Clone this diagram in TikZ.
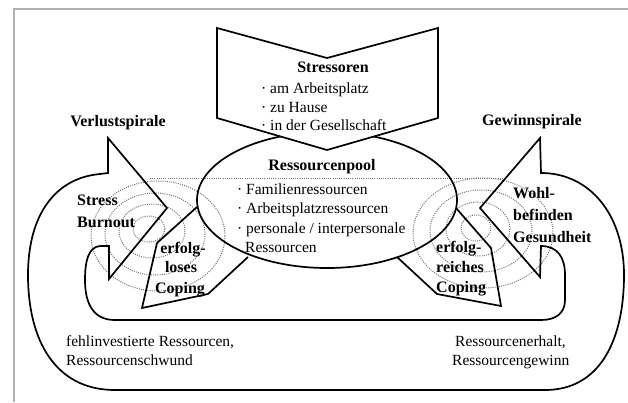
\documentclass[tikz,border=0pt]{standalone}
\usepackage{fontspec}
\setmainfont{Liberation Serif}
\begin{document}
\begin{tikzpicture}[x=1pt,y=-1pt, line join=miter,
  outline/.style={draw=black, line width=1.7pt},
  ring/.style={draw=black!55, dash pattern=on 1pt off 1.2pt, line width=1pt},
  bt/.style={font=\fontsize{16}{19.5}\selectfont\bfseries, inner sep=0pt},
  rt/.style={font=\fontsize{15.5}{19.5}\selectfont, inner sep=0pt}]
\useasboundingbox (0,0) rectangle (628,402);
% frame
\draw[gray!60, line width=1.5pt] (14,402) -- (14,9) -- (628,9);
% dotted spirals
\draw[ring] (158,236) ellipse [x radius=67, y radius=55];
\draw[ring] (155,234) ellipse [x radius=50, y radius=41];
\draw[ring] (152,231) ellipse [x radius=33, y radius=27];
\draw[ring] (149,229) ellipse [x radius=16, y radius=13];
\draw[ring] (483,233) ellipse [x radius=70, y radius=55];
\draw[ring] (481,231) ellipse [x radius=51, y radius=41];
\draw[ring] (478,229) ellipse [x radius=32, y radius=27];
\draw[ring] (476,228) ellipse [x radius=15, y radius=13];
\draw[ring] (150,178) -- (505,178);
% resource pool
\draw[outline] (327,200) ellipse [x radius=130, y radius=68];
% stressors chevron
\draw[outline, fill=white] (217,28) -- (327,58) -- (438,28) -- (438,118) -- (327,150) -- (217,118) -- cycle;
% coping arrows
\draw[outline] (197,207) -- (157,243) -- (142,308) -- (208,294) -- (248,257);
\draw[outline] (456,208) -- (491,248) -- (501,306) -- (437,294) -- (397,257);
% spiral band with both arrowheads
\draw[outline] (108,138) -- (167,208) -- (109,279) -- (109,246) -- (100,246)
  .. controls (88,247) and (85,262) .. (85,280)
  .. controls (85,306) and (95,320) .. (115,320) -- (541,320)
  .. controls (556,320) and (565,313) .. (565,300) -- (565,275)
  .. controls (565,258) and (558,246) .. (541,246) -- (540,277) -- (480,208) -- (540,138) -- (541,173)
  .. controls (590,173) and (624,215) .. (624,275)
  .. controls (624,340) and (600,390) .. (545,390) -- (115,390)
  .. controls (55,390) and (28,340) .. (28,275)
  .. controls (28,215) and (55,178) .. (100,174) -- (108,173) -- cycle;
% texts
\node[bt, anchor=base] (stressoren) at (333,72) {Stressoren};
\node[rt, anchor=base west] (s1) at (261,93) {· am Arbeitsplatz};
\node[rt, anchor=base west] (s2) at (261,112) {· zu Hause};
\node[rt, anchor=base west] (s3) at (261,130) {· in der Gesellschaft};
\node[bt, anchor=base] (verlust) at (118,126) {Verlustspirale};
\node[bt, anchor=base] (gewinn) at (532,125) {Gewinnspirale};
\node[bt, anchor=base] (pool) at (322,170) {Ressourcenpool};
\node[rt, anchor=base west] (p1) at (237,194) {· Familienressourcen};
\node[rt, anchor=base west] (p2) at (237,213) {· Arbeitsplatzressourcen};
\node[rt, anchor=base west] (p3) at (237,233) {· personale / interpersonale};
\node[rt, anchor=base west] (p4) at (245,252) {Ressourcen};
\node[bt, anchor=base west] (stress) at (77,205) {Stress};
\node[bt, anchor=base west] (burnout) at (77,227) {Burnout};
\node[bt, anchor=base] (l1) at (183,253) {erfolg-};
\node[bt, anchor=base] (l2) at (181,272) {loses};
\node[bt, anchor=base] (l3) at (180,293) {Coping};
\node[bt, anchor=base west] (r1) at (436,252) {erfolg-};
\node[bt, anchor=base west] (r2) at (436,272) {reiches};
\node[bt, anchor=base west] (r3) at (436,292) {Coping};
\node[bt, anchor=base west] (w1) at (513,198) {Wohl-};
\node[bt, anchor=base west] (w2) at (513,220) {befinden};
\node[bt, anchor=base west] (w3) at (513,242) {Gesundheit};
\node[rt, anchor=base west] (f1) at (66,346) {fehlinvestierte Ressourcen,};
\node[rt, anchor=base west] (f2) at (66,365) {Ressourcenschwund};
\node[rt, anchor=base west] (g1) at (455,346) {Ressourcenerhalt,};
\node[rt, anchor=base west] (g2) at (452,365) {Ressourcengewinn};
\end{tikzpicture}
\end{document}
